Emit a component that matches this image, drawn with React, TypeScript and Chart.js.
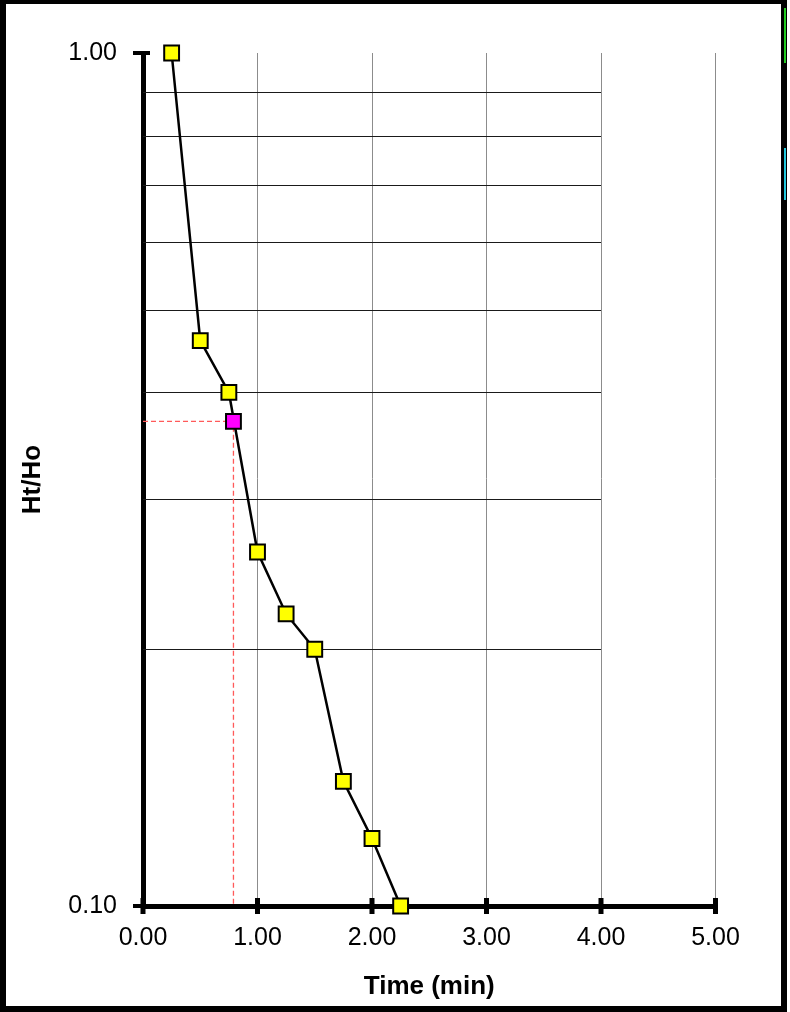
import { useEffect, useRef } from "react";
import { Chart, registerables } from "chart.js";

Chart.register(...registerables);

// ---- data ----
const timeMin = [0.25, 0.5, 0.75, 1.0, 1.25, 1.5, 1.75, 2.0, 2.25];
const htHo = [1.0, 0.46, 0.4, 0.26, 0.22, 0.2, 0.14, 0.12, 0.1];
const markedTime = [0.79];
const markedRatio = [0.37];
const xTickValues = [0, 1, 2, 3, 4, 5];
const yLabelValues = [0.1, 1.0];
const yMinorGridValues = [0.2, 0.3, 0.4, 0.5, 0.6, 0.7, 0.8, 0.9];
const minorGridXRange = [0, 4];
const xTitle = "Time (min)";
const yTitle = "Ht/Ho";

const FONT = "'Liberation Sans', Arial, Helvetica, sans-serif";

const decorPlugin = {
  id: "decor",
  beforeDatasetsDraw(chart: any) {
    const { ctx, scales } = chart;
    const x = scales.x;
    const y = scales.y;
    ctx.save();
    // minor horizontal grid lines, only from 0 to 4 on the time axis
    ctx.strokeStyle = "#1a1a1a";
    ctx.lineWidth = 1;
    ctx.beginPath();
    const x0 = x.getPixelForValue(minorGridXRange[0]);
    const x1 = x.getPixelForValue(minorGridXRange[1]);
    for (const v of yMinorGridValues) {
      const py = Math.round(y.getPixelForValue(v)) + 0.5;
      ctx.moveTo(x0, py);
      ctx.lineTo(x1, py);
    }
    ctx.stroke();
    // crossing major tick marks
    ctx.fillStyle = "#000";
    const axisY = y.getPixelForValue(0.1);
    for (const v of xTickValues) {
      const px = x.getPixelForValue(v);
      ctx.fillRect(px - 2.5, axisY - 8, 5, 16);
    }
    const axisX = x.getPixelForValue(0);
    for (const v of yLabelValues) {
      const py = y.getPixelForValue(v);
      ctx.fillRect(axisX - 10, py - 2, 17, 4);
    }
    ctx.restore();
  },
};

export default function App() {
  const canvasRef = useRef<HTMLCanvasElement | null>(null);

  useEffect(() => {
    document.body.style.margin = "0";
    const canvas = canvasRef.current;
    if (!canvas) return;

    const mainPoints = timeMin.map((t, i) => ({ x: t, y: htHo[i] }));
    const markPoints = markedTime.map((t, i) => ({ x: t, y: markedRatio[i] }));
    const guidePoints = [
      { x: 0, y: markedRatio[0] },
      { x: markedTime[0], y: markedRatio[0] },
      { x: markedTime[0], y: 0.1 },
    ];

    const chart = new Chart(canvas, {
      type: "line",
      data: {
        datasets: [
          {
            data: markPoints,
            showLine: false,
            pointStyle: "rect",
            pointRadius: 10.5,
            pointBackgroundColor: "#ff00ff",
            pointBorderColor: "#000",
            pointBorderWidth: 2,
            order: 0,
            clip: false,
          },
          {
            data: mainPoints,
            borderColor: "#000",
            borderWidth: 2.5,
            pointStyle: "rect",
            pointRadius: 10.5,
            pointBackgroundColor: "#ffff00",
            pointBorderColor: "#000",
            pointBorderWidth: 2,
            order: 1,
            clip: false,
          },
          {
            data: guidePoints,
            borderColor: "#ff5a5a",
            borderWidth: 1.3,
            borderDash: [5, 3],
            pointRadius: 0,
            order: 2,
            clip: false,
          },
        ],
      },
      options: {
        animation: false,
        responsive: false,
        maintainAspectRatio: false,
        devicePixelRatio: 1,
        layout: { padding: { left: 6, top: 53, right: 74.5, bottom: 6 } },
        plugins: {
          legend: { display: false },
          tooltip: { enabled: false },
          title: { display: false },
        },
        scales: {
          x: {
            type: "linear",
            min: 0,
            max: 5,
            afterFit: (s: any) => {
              s.height = 100;
            },
            ticks: {
              stepSize: 1,
              padding: 17,
              color: "#000",
              font: { family: FONT, size: 25 },
              callback: (v: any) => Number(v).toFixed(2),
            },
            grid: {
              display: true,
              drawOnChartArea: true,
              drawTicks: false,
              lineWidth: 1,
              color: (c: any) => (c.tick && c.tick.value === 0 ? "rgba(0,0,0,0)" : "#8c8c8c"),
            },
            border: { display: true, width: 5, color: "#000" },
            title: {
              display: true,
              text: xTitle,
              color: "#000",
              font: { family: FONT, size: 26, weight: "bold" },
              padding: { top: 0, bottom: 3.4 },
            },
          },
          y: {
            type: "logarithmic",
            min: 0.1,
            max: 1,
            afterFit: (s: any) => {
              s.width = 137;
            },
            ticks: {
              padding: 26,
              color: "#000",
              font: { family: FONT, size: 25 },
              autoSkip: false,
              callback: (v: any) => {
                const n = Number(v);
                return yLabelValues.some((l) => Math.abs(l - n) < 1e-9) ? n.toFixed(2) : "";
              },
            },
            grid: {
              display: true,
              drawOnChartArea: false,
              drawTicks: false,
            },
            border: { display: true, width: 5, color: "#000" },
            title: {
              display: true,
              text: yTitle,
              color: "#000",
              font: { family: FONT, size: 26, weight: "bold" },
              padding: { top: 11.5, bottom: 0 },
            },
          },
        },
      },
      plugins: [decorPlugin],
    } as any);

    return () => chart.destroy();
  }, []);

  return (
    <div style={{ position: "relative", width: 790, height: 1012, background: "#fff", overflow: "hidden" }}>
      <canvas ref={canvasRef} width={790} height={1012} style={{ position: "absolute", left: 0, top: 0, width: 790, height: 1012 }} />
      <div
        style={{
          position: "absolute",
          left: 0,
          top: 0,
          width: 787,
          height: 1012,
          boxSizing: "border-box",
          borderLeft: "6px solid #000",
          borderTop: "4px solid #000",
          borderRight: "6px solid #000",
          borderBottom: "6px solid #000",
          pointerEvents: "none",
        }}
      />
      <div style={{ position: "absolute", left: 784, top: 8, width: 2, height: 55, background: "#22cc22" }} />
      <div style={{ position: "absolute", left: 784, top: 148, width: 2, height: 52, background: "#22c8dd" }} />
    </div>
  );
}
